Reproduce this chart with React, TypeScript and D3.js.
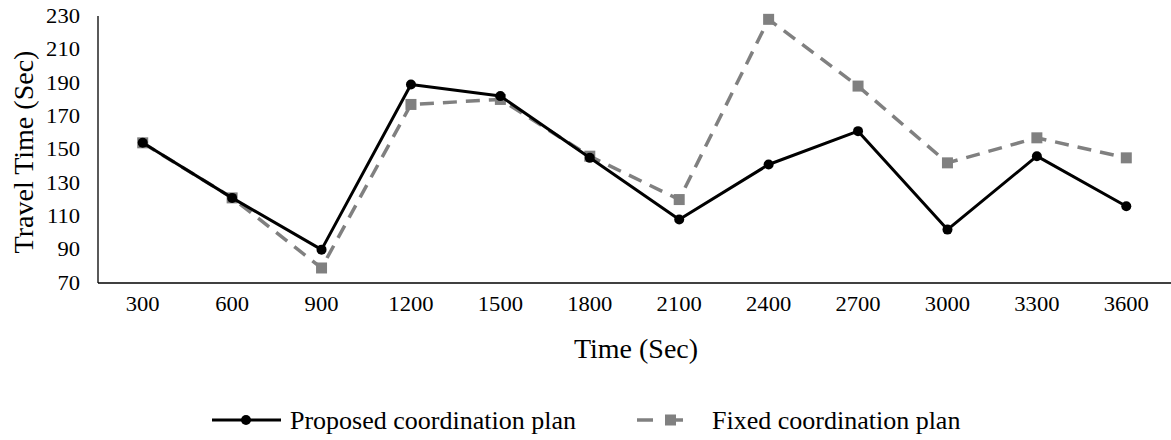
import React from "react";
import * as d3 from "d3";

const categories = ["300", "600", "900", "1200", "1500", "1800", "2100", "2400", "2700", "3000", "3300", "3600"];
const proposed = [154, 121, 90, 189, 182, 145, 108, 141, 161, 102, 146, 116];
const fixed = [154, 121, 79, 177, 180, 146, 120, 228, 188, 142, 157, 145];
const yTicks = [70, 90, 110, 130, 150, 170, 190, 210, 230];

const W = 1171;
const H = 440;
const left = 98;
const right = 1171;
const top = 16;
const bottom = 283;
const FONT = "'Liberation Serif', 'Times New Roman', serif";

export default function App() {
  const x = d3.scaleBand<string>().domain(categories).range([left, right]);
  const y = d3.scaleLinear().domain([70, 230]).range([bottom, top]);
  const cx = (c: string) => (x(c) as number) + x.bandwidth() / 2;
  const line = d3
    .line<number>()
    .x((_, i) => cx(categories[i]))
    .y((d) => y(d));

  return (
    <svg
      width={W}
      height={H}
      style={{ position: "absolute", left: 0, top: 0, background: "#fff" }}
      fontFamily={FONT}
    >
      <rect width={W} height={H} fill="#fff" />
      {/* axes */}
      <line x1={left} x2={left} y1={top} y2={bottom} stroke="#000" strokeWidth={1.3} />
      <line x1={left} x2={right} y1={bottom} y2={bottom} stroke="#000" strokeWidth={1.3} />
      {yTicks.map((t) => (
        <text
          key={t}
          transform={`translate(80,${y(t)}) scale(1.13,1)`}
          dy="0.34em"
          textAnchor="end"
          fontSize={20}
          fill="#000"
        >
          {t}
        </text>
      ))}
      {categories.map((c) => (
        <text
          key={c}
          transform={`translate(${cx(c)},${bottom + 28}) scale(1.13,1)`}
          textAnchor="middle"
          fontSize={20}
          fill="#000"
        >
          {c}
        </text>
      ))}
      <text
        transform={`translate(33,152) rotate(-90)`}
        textAnchor="middle"
        fontSize={28}
        fill="#000"
      >
        Travel Time (Sec)
      </text>
      <text x={636} y={358} textAnchor="middle" fontSize={28} fill="#000">
        Time (Sec)
      </text>

      {/* fixed series */}
      <path
        d={line(fixed) || ""}
        fill="none"
        stroke="#808080"
        strokeWidth={3.5}
        strokeDasharray="14 9"
      />
      {fixed.map((v, i) => (
        <rect
          key={i}
          x={cx(categories[i]) - 5.5}
          y={y(v) - 5.5}
          width={11}
          height={11}
          fill="#808080"
        />
      ))}

      {/* proposed series */}
      <path d={line(proposed) || ""} fill="none" stroke="#000" strokeWidth={3} strokeLinejoin="round" />
      {proposed.map((v, i) => (
        <circle key={i} cx={cx(categories[i])} cy={y(v)} r={5} fill="#000" />
      ))}

      {/* legend */}
      <g>
        <line x1={212} x2={281} y1={420} y2={420} stroke="#000" strokeWidth={3} />
        <circle cx={246} cy={420} r={5} fill="#000" />
        <text x={290} y={429} fontSize={26} fill="#000">
          Proposed coordination plan
        </text>
        <line x1={637} x2={653} y1={420} y2={420} stroke="#808080" strokeWidth={3.5} />
        <rect x={665} y={414.5} width={11} height={11} fill="#808080" />
        <line x1={676} x2={683} y1={420} y2={420} stroke="#808080" strokeWidth={3.5} />
        <text x={712} y={429} fontSize={26} fill="#000">
          Fixed coordination plan
        </text>
      </g>
    </svg>
  );
}
